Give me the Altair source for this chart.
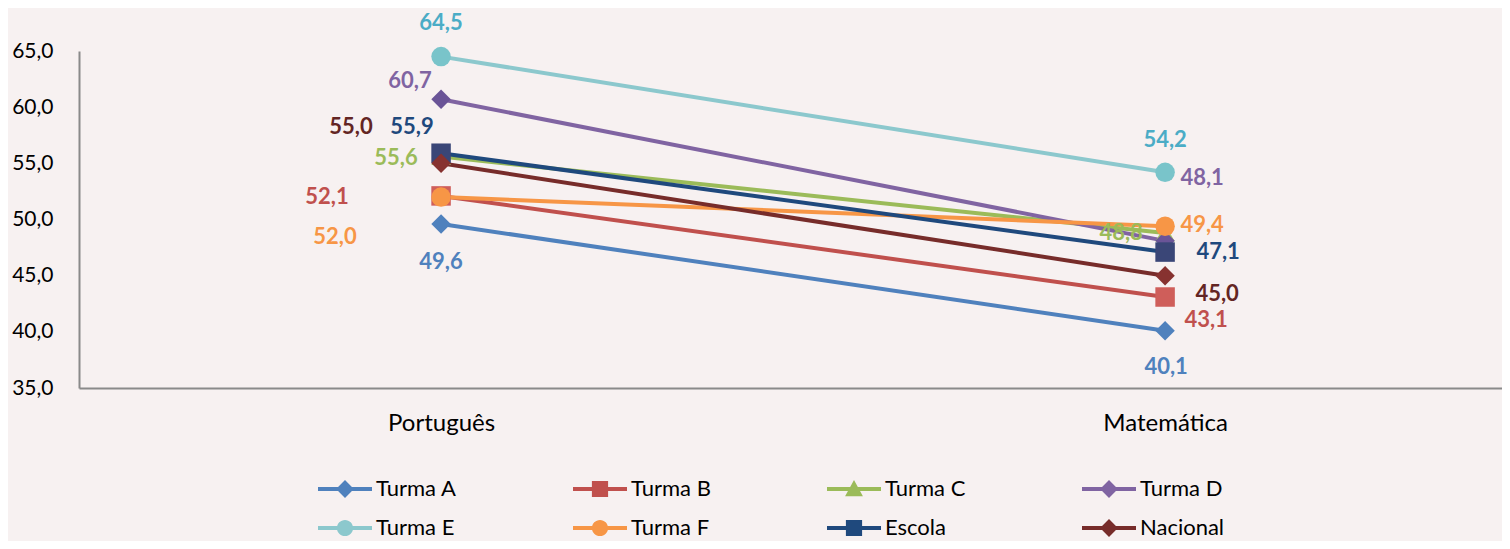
import altair as alt
import pandas as pd

categories = ["Português", "Matemática"]
series = ["Turma A", "Turma B", "Turma C", "Turma D", "Turma E", "Turma F", "Escola", "Nacional"]
portugues = [49.6, 52.1, 55.6, 60.7, 64.5, 52.0, 55.9, 55.0]
matematica = [40.1, 43.1, 48.8, 48.1, 54.2, 49.4, 47.1, 45.0]
y_ticks = [35, 40, 45, 50, 55, 60, 65]

# styles
line_colors = ["#4F81BD", "#C0504D", "#9BBB59", "#8064A2", "#8CC8CD", "#F79646", "#1F497D", "#772C2A"]
marker_fills = ["#4F81BD", "#CF5E5A", "#A5C565", "#6A5497", "#79C4CA", "#F79646", "#3A4677", "#873230"]
label_colors = ["#4F81BD", "#C0504D", "#9BBB59", "#8064A2", "#4BACC6", "#F79646", "#1F497D", "#632523"]
shapes = ["diamond", "square", "triangle-up", "diamond", "circle", "circle", "square", "diamond"]

label_offsets = {
    ("Turma A", "Português"): (0, 38), ("Turma A", "Matemática"): (1, 36),
    ("Turma B", "Português"): (-114, 1), ("Turma B", "Matemática"): (41, 23),
    ("Turma C", "Português"): (-45, 1), ("Turma C", "Matemática"): (-44, 0),
    ("Turma D", "Português"): (-31, -18), ("Turma D", "Matemática"): (37, -63),
    ("Turma E", "Português"): (0, -34), ("Turma E", "Matemática"): (0, -32),
    ("Turma F", "Português"): (-106, 40), ("Turma F", "Matemática"): (37, -1),
    ("Escola", "Português"): (-29, -26), ("Escola", "Matemática"): (53, 0),
    ("Nacional", "Português"): (-90, -36), ("Nacional", "Matemática"): (52, 18),
}

rows = []
for i, s in enumerate(series):
    rows.append({"serie": s, "disc": categories[0], "valor": portugues[i], "ordem": i})
    rows.append({"serie": s, "disc": categories[1], "valor": matematica[i], "ordem": i})
df = pd.DataFrame(rows)

FONT = "Lato"

# legend symbol paths (line + marker), unit coords
LINE = "M-1,-0.075H1V0.075H-1Z"
PATHS = {
    "diamond": "M0,-0.33L0.33,0L0,0.33L-0.33,0Z",
    "square": "M-0.3,-0.3H0.3V0.3H-0.3Z",
    "triangle-up": "M0,-0.33L0.33,0.27H-0.33Z",
    "circle": "M0.3,0A0.3,0.3,0,1,1,-0.3,0A0.3,0.3,0,1,1,0.3,0Z",
}
legend_paths = [LINE + " " + PATHS[sh] for sh in shapes]

x_enc = alt.X(
    "disc:N",
    sort=categories,
    scale=alt.Scale(type="point", padding=0.4827, align=0.518),
    axis=alt.Axis(
        title=None, labelAngle=0, ticks=False, domainColor="#8A8A8A", domainWidth=2,
        labelFont=FONT, labelFontSize=24, labelColor="#000000", labelPadding=23,
    ),
)
y_enc = alt.Y(
    "valor:Q",
    scale=alt.Scale(domain=[35, 65], nice=False, zero=False),
    axis=alt.Axis(
        title=None, values=y_ticks, ticks=False, grid=False, domainColor="#8A8A8A", domainWidth=2,
        labelFont=FONT, labelFontSize=21, labelColor="#000000", labelPadding=26,
        labelExpr="replace(format(datum.value, '.1f'), '.', ',')",
    ),
)

base = alt.Chart(df)

leg = alt.Legend(
    title=None, orient="none", legendX=239, legendY=411, direction="horizontal", columns=4,
    columnPadding=116, rowPadding=1, symbolSize=2916, symbolStrokeWidth=0, symbolOpacity=1,
    labelFont=FONT, labelFontSize=22, labelColor="#000000", labelOffset=4,
)
legend_layer = base.mark_point(
    filled=True, size=2916, opacity=0, strokeWidth=0
).encode(
    x=x_enc,
    y=y_enc,
    color=alt.Color("serie:N", scale=alt.Scale(domain=series, range=line_colors), legend=leg),
    shape=alt.Shape("serie:N", scale=alt.Scale(domain=series, range=legend_paths), legend=leg),
)

lines = base.mark_line(strokeWidth=4).encode(
    x=x_enc,
    y=y_enc,
    detail="serie:N",
    order="ordem:Q",
    stroke=alt.Stroke("serie:N", scale=alt.Scale(domain=series, range=line_colors), legend=None),
)

fill_enc = alt.Fill("serie:N", scale=alt.Scale(domain=series, range=marker_fills), legend=None)
point_layers = []
for i, s in enumerate(series):
    point_layers.append(
        base.transform_filter(alt.datum.serie == s)
        .mark_point(filled=True, size=380, opacity=1, shape=shapes[i], strokeWidth=0)
        .encode(x=x_enc, y=y_enc, fill=fill_enc)
    )

texts = []
for i, s in enumerate(series):
    for c in categories:
        dx, dy = label_offsets[(s, c)]
        t = base.transform_filter(
            (alt.datum.serie == s) & (alt.datum.disc == c)
        ).transform_calculate(
            rotulo="replace(format(datum.valor, '.1f'), '.', ',')"
        ).mark_text(
            font=FONT, fontSize=22, fontWeight="bold", color=label_colors[i],
            dx=dx, dy=dy, align="center", baseline="middle",
        ).encode(x=x_enc, y=y_enc, text="rotulo:N")
        texts.append(t)

chart = alt.layer(legend_layer, lines, *point_layers, *texts).properties(
    width=1423,
    height=337,
    autosize=alt.AutoSizeParams(type="none"),
    padding={"left": 71, "top": 43, "right": 0, "bottom": 153},
    background="#F7F1F1",
).configure_view(stroke=None)

chart.save("out.html", embed_options={"renderer": "svg", "actions": False})
